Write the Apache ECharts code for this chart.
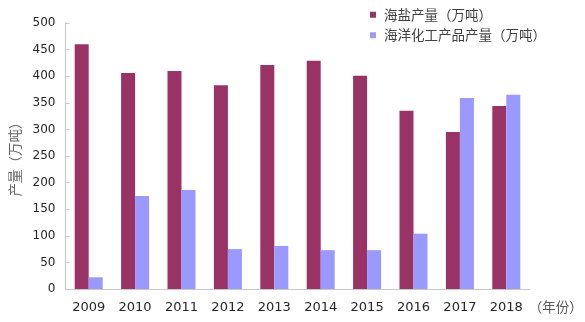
<!DOCTYPE html>
<html>
<head>
<meta charset="utf-8">
<script src="https://cdn.jsdelivr.net/npm/echarts@6/dist/echarts.min.js"></script>
<style>
  html, body { margin: 0; padding: 0; background: #fff; }
  #chart { width: 585px; height: 322px; }
</style>
</head>
<body>
<div id="chart"></div>
<script>
// Annual output, 10k tonnes
const years = ['2009', '2010', '2011', '2012', '2013', '2014', '2015', '2016', '2017', '2018'];
const seaSalt = [460, 406, 410, 383, 421, 429, 401, 335, 295, 344];
const marineChem = [22, 175, 186, 75, 81, 73, 73, 104, 359, 365];
const seriesNames = ['海盐产量（万吨）', '海洋化工产品产量（万吨）'];
const yTicks = [0, 50, 100, 150, 200, 250, 300, 350, 400, 450, 500];

const cjk = '"Noto Sans CJK SC", "Noto Sans", sans-serif';
const num = '"DejaVu Sans", Verdana, sans-serif';
const axisGray = '#c8c8c8';

const chart = echarts.init(document.getElementById('chart'), null, { renderer: 'canvas' });
chart.setOption({
  animation: false,
  backgroundColor: '#ffffff',
  grid: { left: 65, right: 41, top: 23, bottom: 33 },
  legend: {
    orient: 'vertical',
    left: 365,
    top: 3,
    itemGap: 7,
    itemWidth: 6,
    itemHeight: 6,
    icon: 'rect',
    data: seriesNames,
    textStyle: { fontFamily: cjk, fontSize: 13.5, color: '#404040', padding: [0, 0, 0, 3] }
  },
  xAxis: {
    type: 'category',
    data: years,
    name: '（年份）',
    nameLocation: 'end',
    nameGap: -8,
    nameTextStyle: { fontFamily: cjk, fontSize: 13.5, color: '#595959', verticalAlign: 'top', padding: [11, 0, 0, 0] },
    axisLine: { lineStyle: { color: axisGray } },
    axisTick: { inside: true, length: 4, alignWithLabel: false, lineStyle: { color: axisGray } },
    axisLabel: { fontFamily: num, fontSize: 13, color: '#262626', margin: 12 }
  },
  yAxis: {
    type: 'value',
    min: yTicks[0],
    max: yTicks[yTicks.length - 1],
    interval: yTicks[1] - yTicks[0],
    name: '产量（万吨）',
    nameLocation: 'middle',
    nameGap: 44,
    nameRotate: 90,
    nameTextStyle: { fontFamily: cjk, fontSize: 13.5, color: '#666666' },
    axisLine: { show: true, lineStyle: { color: axisGray } },
    axisTick: { show: true, inside: true, length: 4, lineStyle: { color: axisGray } },
    splitLine: { show: false },
    axisLabel: { fontFamily: num, fontSize: 12, color: '#262626', margin: 10 }
  },
  series: [
    {
      name: seriesNames[0],
      type: 'bar',
      data: seaSalt,
      barWidth: 14,
      barGap: '0%',
      itemStyle: { color: '#993366' }
    },
    {
      name: seriesNames[1],
      type: 'bar',
      data: marineChem,
      barWidth: 14,
      barGap: '0%',
      itemStyle: { color: '#9999ff' }
    }
  ]
});
</script>
</body>
</html>
